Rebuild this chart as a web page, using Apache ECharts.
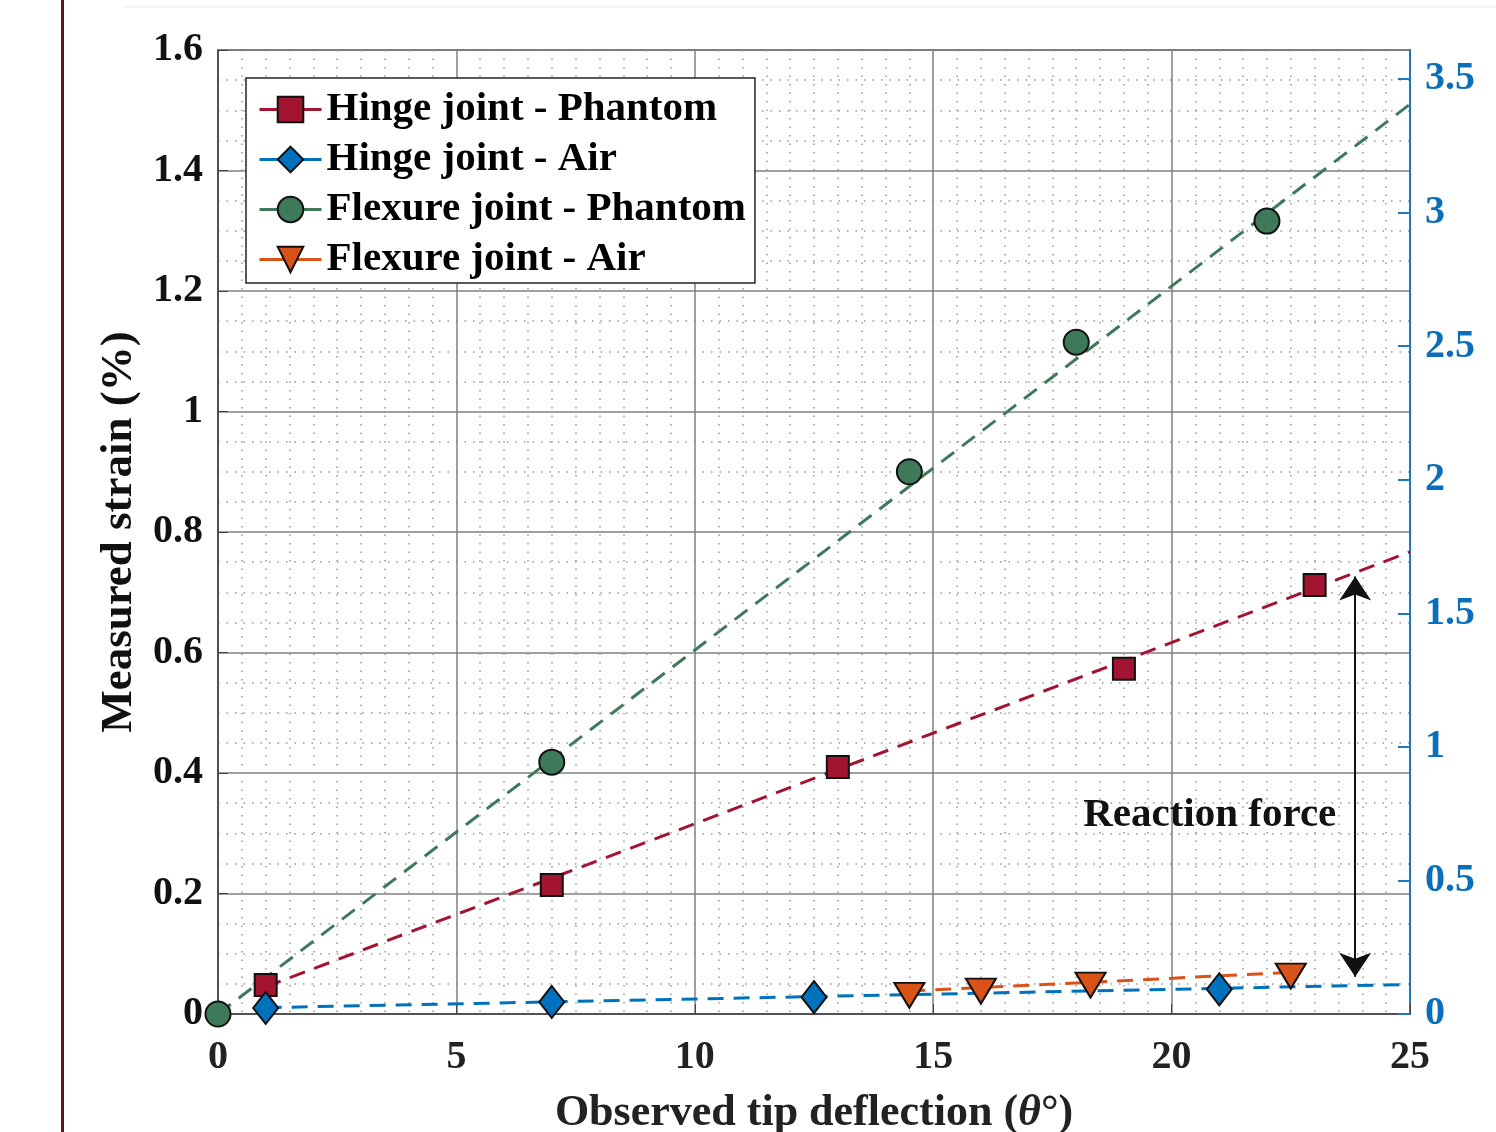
<!DOCTYPE html>
<html>
<head>
<meta charset="utf-8">
<script src="https://cdn.jsdelivr.net/npm/echarts@6.0.0/dist/echarts.min.js"></script>
<style>
  html, body { margin: 0; padding: 0; background: #fff; }
  #strain { width: 1496px; height: 1132px; }
</style>
</head>
<body>
<div id="strain"></div>
<script>
// measured points (tip deflection in deg, strain in %)
var xHingePhantom = [1, 7, 13, 19, 23];
var yHingePhantom = [0.048, 0.214, 0.41, 0.573, 0.712];
var xHingeAir = [1, 7, 12.5, 21];
var yHingeAir = [0.01, 0.02, 0.028, 0.041];
var xFlexPhantom = [0, 7, 14.5, 18, 22];
var yFlexPhantom = [0, 0.418, 0.9, 1.115, 1.316];
var xFlexAir = [14.5, 16, 18.3, 22.5];
var yFlexAir = [0.031, 0.038, 0.048, 0.063];

// dashed trend lines, end points
var fitHingePhantom = [[1, 0.045], [25, 0.767]];
var fitHingeAir = [[1, 0.0105], [25, 0.049]];
var fitFlexPhantom = [[0, 0], [25, 1.51]];
var fitFlexAir = [[14.5, 0.038], [22.5, 0.069]];

// annotation
var reactionArrow = [[23.85, 0.062], [23.85, 0.726]];
var reactionLabel = [20.8, 0.33];

var names = ['Hinge joint - Phantom', 'Hinge joint - Air', 'Flexure joint - Phantom', 'Flexure joint - Air'];
var colors = ['#a2142f', '#0072bd', '#3e7a59', '#d95319'];

var serif = '"Liberation Serif", "DejaVu Serif", serif';

function pairs(xs, ys) {
    var out = [];
    for (var i = 0; i < xs.length; i++) out.push([xs[i], ys[i]]);
    return out;
}

function fitLine(name, pts, c) {
    return {
        name: name + ' fit',
        type: 'line',
        data: pts,
        symbol: 'none',
        z: 2,
        silent: true,
        lineStyle: { color: c, width: 3, type: [16, 10] }
    };
}

function markers(name, pts, c, sym, size, rot) {
    return {
        name: name,
        type: 'line',
        data: pts,
        symbol: sym,
        symbolSize: size,
        symbolRotate: rot || 0,
        showSymbol: true,
        z: 5,
        itemStyle: { color: c, borderColor: '#111', borderWidth: 2 },
        lineStyle: { color: c, width: 3, opacity: 0 }
    };
}

var myChart = echarts.init(document.getElementById('strain'));

var hingePhantomFit = fitLine(names[0], fitHingePhantom, colors[0]);
hingePhantomFit.markLine = {
    silent: true,
    symbol: ['arrow', 'arrow'],
    symbolSize: 24,
    label: { show: false },
    lineStyle: { color: '#111', width: 2, type: 'solid' },
    data: [[{ coord: reactionArrow[0] }, { coord: reactionArrow[1] }]]
};
hingePhantomFit.markPoint = {
    silent: true,
    symbolSize: 0,
    label: {
        show: true,
        formatter: 'Reaction force',
        color: '#111',
        fontFamily: serif,
        fontWeight: 'bold',
        fontSize: 41
    },
    data: [{ coord: reactionLabel }]
};

option = {
    backgroundColor: '#fff',
    animation: false,
    grid: {
        left: 218, right: 86, top: 50, bottom: 118,
        outerBoundsMode: 'none',
        containLabel: false,
        show: true, borderColor: '#444', borderWidth: 1.5, backgroundColor: '#fff'
    },
    graphic: [
        { type: 'rect', shape: { x: 61, y: 0, width: 3, height: 1132 }, style: { fill: '#5c1a1a' } },
        { type: 'line', shape: { x1: 123, y1: 7, x2: 1496, y2: 7 }, style: { stroke: '#ececec', lineWidth: 1 } }
    ],
    legend: {
        orient: 'vertical',
        left: 246, top: 78,
        backgroundColor: '#fff',
        borderColor: '#222', borderWidth: 1.5, borderRadius: 0,
        padding: [11, 9, 3, 12],
        itemGap: 9,
        itemWidth: 62, itemHeight: 32,
        textStyle: { fontFamily: serif, fontWeight: 'bold', fontSize: 41, color: '#000', lineHeight: 40 },
        data: names.map(function (n, i) {
            return { name: n, lineStyle: { opacity: 1, color: colors[i], width: 3, type: 'solid' } };
        })
    },
    xAxis: {
        type: 'value',
        min: 0, max: 25, interval: 5,
        name: 'Observed tip deflection ({i|θ}°)',
        nameLocation: 'middle',
        nameGap: 78,
        nameTextStyle: {
            fontFamily: serif, fontWeight: 'bold', fontSize: 44, color: '#222',
            rich: { i: { fontFamily: serif, fontWeight: 'bold', fontStyle: 'italic', fontSize: 44, color: '#222' } }
        },
        axisLine: { onZero: false, lineStyle: { color: '#444', width: 1.5 } },
        axisTick: { inside: true, length: 10, lineStyle: { color: '#444' } },
        axisLabel: { margin: 24, fontFamily: serif, fontWeight: 'bold', fontSize: 40, color: '#222' },
        splitLine: { show: true, lineStyle: { color: '#808080', width: 1.5 } },
        minorTick: { show: false, splitNumber: 10 },
        minorSplitLine: { show: true, lineStyle: { color: '#999', width: 1.5, type: [1.5, 7] } }
    },
    yAxis: [
        {
            type: 'value',
            min: 0, max: 1.6, interval: 0.2,
            name: 'Measured strain (%)',
            nameLocation: 'middle',
            nameGap: 72,
            nameTextStyle: { fontFamily: serif, fontWeight: 'bold', fontSize: 45, color: '#111' },
            axisLine: { show: true, onZero: false, lineStyle: { color: '#444', width: 1.5 } },
            axisTick: { show: true, inside: true, length: 10, lineStyle: { color: '#444' } },
            axisLabel: { margin: 15, fontFamily: serif, fontWeight: 'bold', fontSize: 40, color: '#111' },
            splitLine: { show: true, lineStyle: { color: '#808080', width: 1.5 } },
            minorTick: { show: false, splitNumber: 4 },
            minorSplitLine: { show: true, lineStyle: { color: '#999', width: 1.5, type: [1.5, 7] } }
        },
        {
            type: 'value',
            position: 'right',
            min: 0, max: 3.609, interval: 0.5,
            axisLine: { show: true, onZero: false, lineStyle: { color: '#1f78bd', width: 2 } },
            axisTick: { show: true, inside: true, length: 12, lineStyle: { color: '#1f78bd', width: 2 } },
            axisLabel: { margin: 15, showMaxLabel: false, fontFamily: serif, fontWeight: 'bold', fontSize: 40, color: '#0a6fb8' },
            splitLine: { show: false }
        }
    ],
    series: [
        hingePhantomFit,
        fitLine(names[1], fitHingeAir, colors[1]),
        fitLine(names[2], fitFlexPhantom, colors[2]),
        fitLine(names[3], fitFlexAir, colors[3]),
        markers(names[0], pairs(xHingePhantom, yHingePhantom), colors[0], 'rect', 22),
        markers(names[1], pairs(xHingeAir, yHingeAir), colors[1], 'diamond', [25, 32]),
        markers(names[2], pairs(xFlexPhantom, yFlexPhantom), colors[2], 'circle', 25),
        markers(names[3], pairs(xFlexAir, yFlexAir), colors[3], 'triangle', [30, 25], 180)
    ]
};
myChart.setOption(option);
</script>
</body>
</html>
